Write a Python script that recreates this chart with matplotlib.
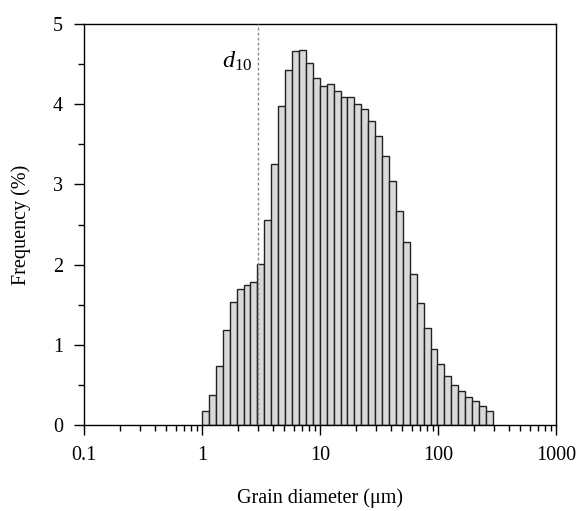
import numpy as np
import matplotlib
matplotlib.use('Agg')
import matplotlib.pyplot as plt
from matplotlib.ticker import LogLocator, NullFormatter, MultipleLocator, FixedLocator, FixedFormatter

plt.rcParams['font.family'] = ['Liberation Serif', 'DejaVu Serif']
plt.rcParams['mathtext.fontset'] = 'custom'
plt.rcParams['mathtext.it'] = 'Liberation Serif:italic'
plt.rcParams['mathtext.rm'] = 'Liberation Serif'

# grain size distribution (%), 42 log-spaced classes from ~1 to ~292 um
d_min = 1.0
d_max = 292.0
freq = [0.17, 0.37, 0.73, 1.18, 1.53, 1.70, 1.75, 1.78, 2.01, 2.55,
        3.26, 3.98, 4.43, 4.66, 4.67, 4.51, 4.33, 4.23, 4.25, 4.16,
        4.09, 4.09, 4.00, 3.94, 3.79, 3.60, 3.35, 3.04, 2.67, 2.28,
        1.88, 1.52, 1.21, 0.95, 0.76, 0.61, 0.50, 0.43, 0.35, 0.30,
        0.24, 0.17]
d10 = 2.98

x_ticks = [0.1, 1, 10, 100, 1000]
x_ticklabels = ['0.1', '1', '10', '100', '1000']

fs = 14.5

fig = plt.figure(figsize=(5.82, 5.11), dpi=100)
ax = fig.add_axes([0.1443, 0.1683, 0.811, 0.7847])

edges = np.geomspace(d_min, d_max, len(freq) + 1)
ax.bar(edges[:-1], freq, width=np.diff(edges), align='edge',
       color='#d9d9d9', edgecolor='#222222', linewidth=1.0, zorder=2)

ax.axvline(d10, color='#888888', linestyle=(0, (2, 1.6)), linewidth=1.0, zorder=3)
ax.text(d10 * 0.9, 4.53, r'$d_{10}$', fontsize=fs + 3, ha='right', va='center')

ax.set_xscale('log')
ax.set_xlim(0.1, 1000)
ax.set_ylim(0, 5)

ax.xaxis.set_major_locator(FixedLocator(x_ticks))
ax.xaxis.set_major_formatter(FixedFormatter(x_ticklabels))
ax.xaxis.set_minor_locator(LogLocator(base=10, subs=np.arange(2, 10), numticks=20))
ax.xaxis.set_minor_formatter(NullFormatter())
ax.yaxis.set_major_locator(MultipleLocator(1))
ax.yaxis.set_minor_locator(MultipleLocator(0.5))

ax.tick_params(which='major', direction='out', length=7, width=1, labelsize=fs, pad=8)
ax.tick_params(which='minor', direction='out', length=4, width=1)
ax.tick_params(top=False, right=False, which='both')

for sp in ax.spines.values():
    sp.set_linewidth(1.0)

ax.set_xlabel('Grain diameter (\u03bcm)', fontsize=fs, labelpad=17)
ax.set_ylabel('Frequency (%)', fontsize=fs, labelpad=16)

fig.savefig('out.png', dpi=100)
